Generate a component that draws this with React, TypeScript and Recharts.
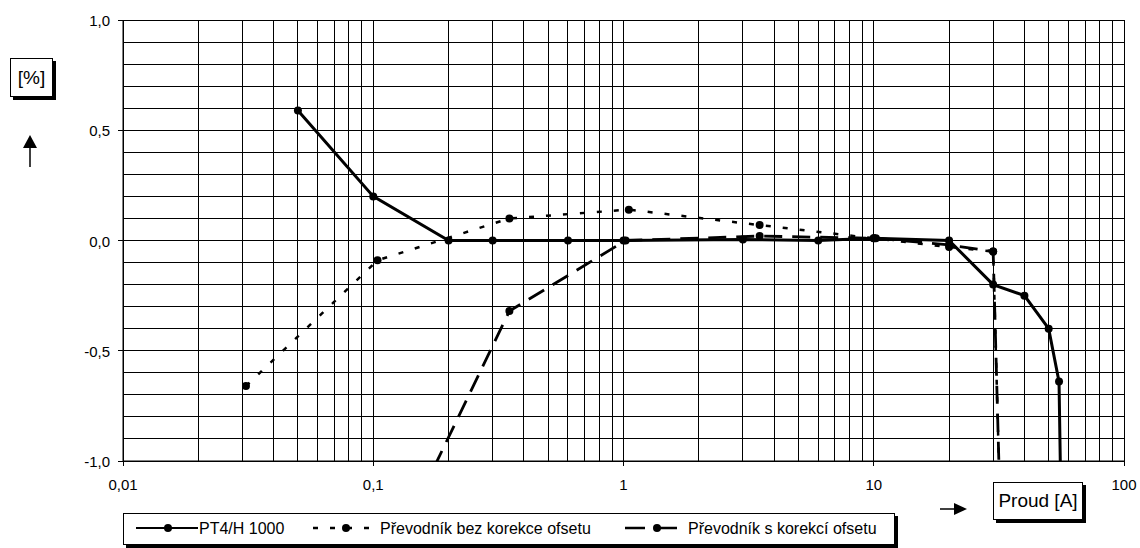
import React from 'react';
import { LineChart, Line, XAxis, YAxis, CartesianGrid, Legend } from 'recharts';

// ---- data ----
const pt4X = [0.05, 0.1, 0.2, 0.3, 0.6, 1, 3, 6, 10, 20, 30, 40, 50, 55, 56];
const pt4Y = [0.59, 0.2, 0, 0, 0, 0, 0.005, 0, 0.01, 0, -0.2, -0.25, -0.4, -0.64, -1.2];

const bezX = [0.031, 0.104, 0.35, 1.05, 3.5, 10, 20, 30, 32.5];
const bezY = [-0.66, -0.09, 0.1, 0.14, 0.07, 0.01, -0.03, -0.05, -1.5];

const sX = [0.1, 0.35, 1.02, 3.5, 10.2, 20, 30, 32.5];
const sY = [-1.6, -0.32, 0, 0.02, 0.01, -0.02, -0.05, -1.5];

const seriesNames = ['PT4/H 1000', 'Převodník bez korekce ofsetu', 'Převodník s korekcí ofsetu'];

const xGridTicks = [
  0.01, 0.02, 0.03, 0.04, 0.05, 0.06, 0.07, 0.08, 0.09,
  0.1, 0.2, 0.3, 0.4, 0.5, 0.6, 0.7, 0.8, 0.9,
  1, 2, 3, 4, 5, 6, 7, 8, 9,
  10, 20, 30, 40, 50, 60, 70, 80, 90,
  100,
];
const yGridTicks = [-1, -0.9, -0.8, -0.7, -0.6, -0.5, -0.4, -0.3, -0.2, -0.1, 0, 0.1, 0.2, 0.3, 0.4, 0.5, 0.6, 0.7, 0.8, 0.9, 1];

const xLabelValues = [0.01, 0.1, 1, 10, 100];
const xLabelTexts = ['0,01', '0,1', '1', '10', '100'];
const yLabelValues = [-1, -0.5, 0, 0.5, 1];
const yLabelTexts = ['-1,0', '-0,5', '0,0', '0,5', '1,0'];

const FONT = '"Liberation Sans", Arial, sans-serif';

const toPoints = (xs: number[], ys: number[]) => xs.map((x, i) => ({ x, y: ys[i] }));
const pt4Data = toPoints(pt4X, pt4Y);
const bezData = toPoints(bezX, bezY);
const sData = toPoints(sX, sY);

const near = (a: number, b: number) => Math.abs(a - b) <= Math.abs(b) * 1e-6 + 1e-9;

const XTick = (props: any) => {
  const { x, y, payload } = props;
  const idx = xLabelValues.findIndex((v) => near(payload.value, v));
  if (idx < 0) return <g />;
  return (
    <g>
      <line x1={x} x2={x} y1={y} y2={y + 5} stroke="#000" strokeWidth={1} shapeRendering="crispEdges" />
      <text x={x} y={y + 29} textAnchor="middle" fontFamily={FONT} fontSize={15} fill="#000">
        {xLabelTexts[idx]}
      </text>
    </g>
  );
};

const YTick = (props: any) => {
  const { x, y, payload } = props;
  const idx = yLabelValues.findIndex((v) => near(payload.value, v));
  if (idx < 0) return <g />;
  return (
    <g>
      <line x1={x - 5} x2={x} y1={y} y2={y} stroke="#000" strokeWidth={1} shapeRendering="crispEdges" />
      <text x={x - 13} y={y + 6} textAnchor="end" fontFamily={FONT} fontSize={15} fill="#000">
        {yLabelTexts[idx]}
      </text>
    </g>
  );
};

const LegendBox = () => (
  <div
    style={{
      width: 772,
      height: 32,
      boxSizing: 'border-box',
      border: '1px solid #000',
      background: '#fff',
      boxShadow: '3px 3px 0 #000',
      position: 'relative',
    }}
  >
    <svg width={772} height={32} style={{ position: 'absolute', left: -1, top: -1 }}>
      {/* item 1 */}
      <line x1={13} x2={75} y1={15} y2={15} stroke="#000" strokeWidth={2} />
      <circle cx={45} cy={15} r={4} fill="#000" />
      <text x={76} y={21} fontFamily={FONT} fontSize={16} fill="#000">{seriesNames[0]}</text>
      {/* item 2 */}
      <line x1={190} x2={250} y1={15} y2={15} stroke="#000" strokeWidth={2.5} strokeDasharray="5 12" />
      <circle cx={223} cy={15} r={4} fill="#000" />
      <text x={257} y={21} fontFamily={FONT} fontSize={16} fill="#000">{seriesNames[1]}</text>
      {/* item 3 */}
      <line x1={502} x2={555} y1={15} y2={15} stroke="#000" strokeWidth={2.5} strokeDasharray="20 12" />
      <circle cx={534} cy={15} r={4} fill="#000" />
      <text x={565} y={21} fontFamily={FONT} fontSize={16} fill="#000">{seriesNames[2]}</text>
    </svg>
  </div>
);

const boxStyle: React.CSSProperties = {
  position: 'absolute',
  boxSizing: 'border-box',
  border: '1px solid #000',
  background: '#fff',
  boxShadow: '3px 3px 0 #000',
  fontFamily: FONT,
  fontSize: 19,
  color: '#000',
  display: 'flex',
  alignItems: 'center',
  justifyContent: 'center',
};

export default function App() {
  return (
    <div style={{ position: 'absolute', left: 0, top: 0, width: 1140, height: 548, background: '#fff' }}>
      <style>{`.recharts-cartesian-grid line { shape-rendering: crispEdges; }`}</style>
      <LineChart width={1140} height={548} margin={{ top: 20, right: 16, bottom: 57, left: 63 }}>
        <CartesianGrid stroke="#000" strokeWidth={1} />
        <XAxis
          dataKey="x"
          type="number"
          scale="log"
          domain={[0.01, 100]}
          ticks={xGridTicks}
          interval={0}
          allowDataOverflow
          height={30}
          tickSize={0}
          tickMargin={0}
          tick={<XTick />}
          tickLine={false}
          axisLine={{ stroke: '#000' }}
        />
        <YAxis
          type="number"
          domain={[-1, 1]}
          ticks={yGridTicks}
          interval={0}
          allowDataOverflow
          width={60}
          tickSize={0}
          tickMargin={0}
          tick={<YTick />}
          tickLine={false}
          axisLine={{ stroke: '#000' }}
        />
        <Legend
          verticalAlign="middle"
          align="center"
          layout="horizontal"
          content={() => <LegendBox />}
          wrapperStyle={{ left: 123, top: 513, width: 772, height: 32 }}
        />
        <Line
          data={sData}
          dataKey="y"
          name={seriesNames[2]}
          type="linear"
          stroke="#000"
          strokeWidth={2.8}
          strokeDasharray="18 10"
          dot={{ r: 4, fill: '#000', stroke: '#000', strokeWidth: 0 }}
          activeDot={false}
          isAnimationActive={false}
        />
        <Line
          data={bezData}
          dataKey="y"
          name={seriesNames[1]}
          type="linear"
          stroke="#000"
          strokeWidth={2.5}
          strokeDasharray="5 12"
          dot={{ r: 4, fill: '#000', stroke: '#000', strokeWidth: 0 }}
          activeDot={false}
          isAnimationActive={false}
        />
        <Line
          data={pt4Data}
          dataKey="y"
          name={seriesNames[0]}
          type="linear"
          stroke="#000"
          strokeWidth={3}
          dot={{ r: 4, fill: '#000', stroke: '#000', strokeWidth: 0 }}
          activeDot={false}
          isAnimationActive={false}
        />
      </LineChart>

      {/* Y axis unit label */}
      <div style={{ ...boxStyle, left: 10, top: 58, width: 43, height: 39 }}>[%]</div>
      <svg style={{ position: 'absolute', left: 20, top: 132 }} width={20} height={40}>
        <line x1={10} x2={10} y1={12} y2={35} stroke="#000" strokeWidth={1.5} />
        <polygon points="10,3 3,16 17,16" fill="#000" />
      </svg>

      {/* X axis unit label */}
      <svg style={{ position: 'absolute', left: 936, top: 499 }} width={36} height={20}>
        <line x1={4} x2={22} y1={10} y2={10} stroke="#000" strokeWidth={1.5} />
        <polygon points="31,10 18,4 18,16" fill="#000" />
      </svg>
      <div style={{ ...boxStyle, left: 993, top: 482, width: 90, height: 38 }}>Proud [A]</div>
    </div>
  );
}
